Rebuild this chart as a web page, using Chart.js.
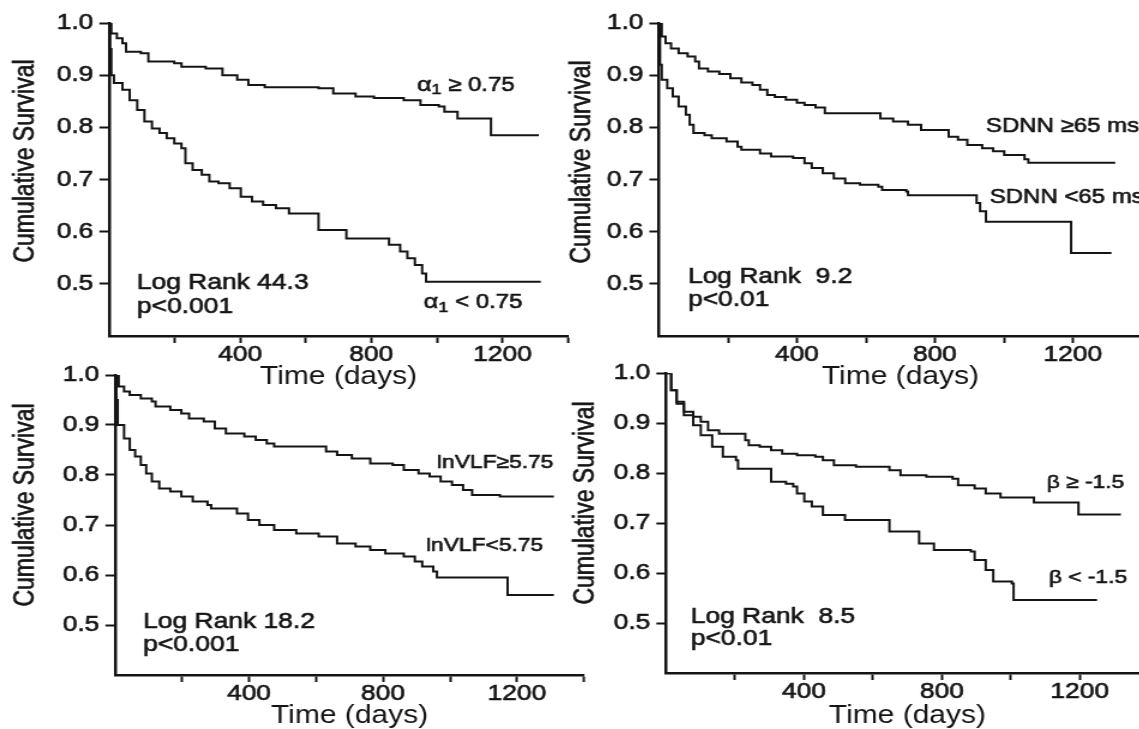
<!DOCTYPE html>
<html>
<head>
<meta charset="utf-8">
<script src="https://cdn.jsdelivr.net/npm/chart.js@4.4.0/dist/chart.umd.min.js"></script>
<style>
html, body { margin: 0; padding: 0; background: #fff; overflow: hidden; }
#wrap { position: relative; width: 1139px; height: 729px; overflow: hidden; background: #fff; }
#wrap canvas { position: absolute; }
</style>
</head>
<body>
<div id="wrap">
  <canvas id="c1"></canvas>
  <canvas id="c2"></canvas>
  <canvas id="c3"></canvas>
  <canvas id="c4"></canvas>
</div>
<script>
// ---- data: [day, cumulative survival] ----
const alphaHigh = [[0,1],[7,0.980],[24,0.971],[41,0.961],[52,0.945],[97,0.942],[120,0.926],[199,0.923],[221,0.916],[295,0.913],[346,0.900],[391,0.891],[425,0.881],[475,0.877],[639,0.875],[684,0.865],[752,0.859],[808,0.856],[899,0.852],[950,0.843],[1006,0.840],[1023,0.830],[1063,0.817],[1165,0.785],[1311,0.785]];
const alphaLow = [[0,1],[3,0.95],[7,0.90],[15,0.885],[41,0.872],[63,0.852],[86,0.833],[108,0.811],[131,0.798],[154,0.789],[176,0.779],[199,0.769],[221,0.760],[233,0.731],[255,0.718],[283,0.709],[306,0.696],[334,0.693],[368,0.683],[402,0.667],[436,0.658],[470,0.651],[509,0.645],[549,0.635],[639,0.603],[724,0.587],[854,0.575],[888,0.562],[910,0.549],[933,0.536],[955,0.520],[967,0.504],[1317,0.504]];

const sdnnHigh = [[0,1],[8,0.974],[19,0.961],[35,0.951],[57,0.942],[83,0.936],[105,0.926],[116,0.913],[142,0.907],[175,0.902],[207,0.894],[239,0.886],[271,0.881],[293,0.872],[314,0.862],[336,0.858],[368,0.853],[400,0.847],[422,0.843],[454,0.838],[481,0.827],[642,0.817],[679,0.811],[722,0.805],[760,0.795],[840,0.782],[867,0.776],[894,0.766],[937,0.760],[969,0.754],[1001,0.747],[1060,0.739],[1071,0.732],[1323,0.732]];
const sdnnLow = [[0,1],[3,0.92],[8,0.891],[24,0.875],[40,0.859],[57,0.840],[78,0.824],[89,0.805],[100,0.789],[132,0.785],[153,0.779],[196,0.773],[228,0.763],[239,0.757],[293,0.750],[325,0.744],[389,0.741],[422,0.731],[443,0.722],[475,0.712],[507,0.702],[540,0.693],[583,0.690],[636,0.686],[647,0.680],[717,0.677],[722,0.670],[921,0.655],[931,0.639],[948,0.619],[1195,0.559],[1312,0.559]];

const vlfHigh = [[0,1],[11,0.977],[27,0.967],[44,0.960],[77,0.953],[110,0.947],[121,0.937],[165,0.930],[198,0.923],[221,0.913],[265,0.907],[298,0.893],[331,0.883],[386,0.877],[420,0.870],[453,0.863],[475,0.857],[630,0.847],[663,0.840],[707,0.833],[762,0.823],[829,0.820],[862,0.810],[906,0.803],[939,0.797],[972,0.787],[1006,0.780],[1039,0.770],[1066,0.760],[1149,0.757],[1310,0.757]];
const vlfLow = [[0,1],[4,0.95],[8,0.900],[27,0.873],[44,0.850],[60,0.837],[77,0.820],[93,0.803],[110,0.787],[132,0.773],[165,0.767],[198,0.757],[232,0.747],[276,0.740],[287,0.733],[364,0.723],[397,0.710],[431,0.700],[475,0.690],[541,0.683],[608,0.677],[663,0.663],[718,0.657],[762,0.650],[807,0.643],[862,0.637],[895,0.627],[917,0.617],[950,0.607],[961,0.595],[1172,0.560],[1310,0.560]];

const betaHigh = [[0,1],[15,0.966],[31,0.939],[52,0.923],[79,0.913],[101,0.903],[122,0.886],[154,0.879],[230,0.866],[240,0.856],[272,0.853],[305,0.846],[337,0.839],[380,0.836],[433,0.833],[455,0.826],[487,0.816],[551,0.813],[648,0.806],[680,0.796],[755,0.793],[831,0.789],[847,0.776],[895,0.769],[927,0.759],[970,0.751],[1067,0.741],[1196,0.717],[1319,0.717]];
const betaLow = [[0,1],[15,0.966],[31,0.943],[52,0.916],[79,0.896],[101,0.876],[134,0.853],[165,0.833],[203,0.826],[209,0.809],[305,0.783],[348,0.779],[369,0.773],[380,0.759],[401,0.743],[423,0.733],[455,0.716],[519,0.706],[648,0.683],[734,0.659],[777,0.646],[884,0.643],[895,0.626],[927,0.606],[949,0.583],[1003,0.579],[1008,0.546],[1250,0.546]];

const xTicks = [200, 400, 600, 800, 1000, 1200, 1400];
const xLabels = [400, 800, 1200];
const yTicks = [0.5, 0.6, 0.7, 0.8, 0.9, 1.0];

// ---- layout (page px); canvases are drawn narrower and stretched sideways like the scan ----
const S = 1.2;
const ink = '#141414';
const FONT = '"Liberation Sans", Arial, sans-serif';
Chart.defaults.font.family = FONT;
Chart.defaults.color = ink;

const panels = [
  { id: 'c1', left: 0, top: 0, w: 480, h: 392, plot: { l: 109, r: 568, t: 23, b: 336 }, titlePad: 2.5, yTitle: [26, 161],
    series: [alphaHigh, alphaLow],
    notes: [
      { at: [939, 0.881], parts: [{ t: 'α', s: 21 }, { t: '1', s: 15, dy: 5 }, { t: ' ≥ 0.75', s: 20 }] },
      { at: [960, 0.464], parts: [{ t: 'α', s: 21 }, { t: '1', s: 15, dy: 5 }, { t: ' < 0.75', s: 20 }] },
      { at: [85, 0.502], parts: [{ t: 'Log Rank 44.3', s: 22 }] },
      { at: [85, 0.456], parts: [{ t: 'p<0.001', s: 22 }] }
    ] },
  { id: 'c2', left: 560, top: 0, w: 496, h: 392, plot: { l: 659, r: 1142, t: 23, b: 336 }, titlePad: 2.5, yTitle: [582, 162],
    series: [sdnnHigh, sdnnLow],
    notes: [
      { at: [948, 0.801], parts: [{ t: 'SDNN ≥65 ms', s: 20 }] },
      { at: [959, 0.665], parts: [{ t: 'SDNN <65 ms', s: 20 }] },
      { at: [84, 0.513], parts: [{ t: 'Log Rank  9.2', s: 22 }] },
      { at: [84, 0.469], parts: [{ t: 'p<0.01', s: 22 }] }
    ] },
  { id: 'c3', left: 0, top: 355, w: 490, h: 374, plot: { l: 115, r: 584, t: 375, b: 675 }, titlePad: 0, yTitle: [26, 505],
    series: [vlfHigh, vlfLow],
    notes: [
      { at: [961, 0.824], parts: [{ t: 'lnVLF≥5.75', s: 19 }] },
      { at: [928, 0.658], parts: [{ t: 'lnVLF<5.75', s: 19 }] },
      { at: [84, 0.506], parts: [{ t: 'Log Rank 18.2', s: 22 }] },
      { at: [84, 0.460], parts: [{ t: 'p<0.001', s: 22 }] }
    ] },
  { id: 'c4', left: 560, top: 355, w: 496, h: 374, plot: { l: 666, r: 1149, t: 373, b: 673 }, titlePad: 0, yTitle: [586, 503],
    series: [betaHigh, betaLow],
    notes: [
      { at: [1104, 0.780], parts: [{ t: 'β ≥ -1.5', s: 19 }] },
      { at: [1110, 0.590], parts: [{ t: 'β < -1.5', s: 19 }] },
      { at: [72, 0.512], parts: [{ t: 'Log Rank  8.5', s: 22 }] },
      { at: [72, 0.468], parts: [{ t: 'p<0.01', s: 22 }] }
    ] }
];

// texts inside the plot + rotated y title (a thin stroke makes them as heavy as the scan)
function notesPlugin(p) {
  return {
    id: 'notes',
    afterDraw(chart) {
      const ctx = chart.ctx, x = chart.scales.x, y = chart.scales.y;
      ctx.save();
      ctx.fillStyle = ink;
      ctx.strokeStyle = ink;
      ctx.lineWidth = 0.6;
      ctx.textBaseline = 'middle';
      ctx.textAlign = 'left';

      ctx.save();
      ctx.translate((p.yTitle[0] - p.left) / S, p.yTitle[1] - p.top);
      ctx.rotate(-Math.PI / 2);
      ctx.textAlign = 'center';
      ctx.font = '23px ' + FONT;
      ctx.fillText('Cumulative Survival', 0, 0);
      ctx.strokeText('Cumulative Survival', 0, 0);
      ctx.restore();

      p.notes.forEach(n => {
        let px = x.getPixelForValue(n.at[0]);
        const py = y.getPixelForValue(n.at[1]);
        n.parts.forEach(part => {
          ctx.font = part.s + 'px ' + FONT;
          ctx.fillText(part.t, px, py + (part.dy || 0));
          ctx.strokeText(part.t, px, py + (part.dy || 0));
          px += ctx.measureText(part.t).width;
        });
      });
      ctx.restore();
    }
  };
}

panels.forEach(p => {
  const cv = document.getElementById(p.id);
  cv.width = p.w;
  cv.height = p.h;
  cv.style.left = p.left + 'px';
  cv.style.top = p.top + 'px';
  cv.style.width = (p.w * S) + 'px';
  cv.style.height = p.h + 'px';

  const areaLeft = (p.plot.l - p.left) / S;
  const areaRight = (p.plot.r - p.left) / S;
  const areaTop = p.plot.t - p.top;
  const areaBottom = p.plot.b - p.top;

  new Chart(cv, {
    type: 'line',
    data: {
      datasets: p.series.map(s => ({
        data: s.map(([d, v]) => ({ x: d, y: v })),
        stepped: true,
        borderColor: ink,
        borderWidth: 2,
        pointRadius: 0,
        fill: false
      }))
    },
    options: {
      responsive: false,
      animation: false,
      devicePixelRatio: 1,
      layout: { padding: { left: 0, top: areaTop, right: p.w - areaRight, bottom: 0 } },
      plugins: { legend: { display: false }, tooltip: { enabled: false } },
      scales: {
        x: {
          type: 'linear', min: 0, max: 1400,
          afterBuildTicks: ax => { ax.ticks = xTicks.map(v => ({ value: v })); },
          afterFit: ax => { ax.height = p.h - areaBottom; },
          ticks: {
            autoSkip: false, maxRotation: 0, padding: 1,
            font: { size: 22, lineHeight: 1 }, color: ink,
            textStrokeColor: ink, textStrokeWidth: 0.6,
            callback: v => xLabels.includes(v) ? String(v) : ''
          },
          grid: { drawOnChartArea: false, drawTicks: true, tickLength: 7, tickWidth: 2, color: ink },
          border: { display: true, color: ink, width: 2.5 },
          title: { display: true, text: 'Time (days)', color: ink,
            font: { size: 25, lineHeight: 1 }, padding: { top: 0, bottom: p.titlePad } }
        },
        y: {
          type: 'linear', min: 0.4, max: 1.0,
          afterBuildTicks: ax => { ax.ticks = yTicks.map(v => ({ value: v })); },
          afterFit: ax => { ax.width = areaLeft; },
          ticks: { padding: 5, font: { size: 22 }, color: ink,
            textStrokeColor: ink, textStrokeWidth: 0.6,
            callback: v => v.toFixed(1) },
          grid: { drawOnChartArea: false, drawTicks: true, tickLength: 8, tickWidth: 2, color: ink },
          border: { display: true, color: ink, width: 2.5 }
        }
      }
    },
    plugins: [notesPlugin(p)]
  });
});
</script>
</body>
</html>
